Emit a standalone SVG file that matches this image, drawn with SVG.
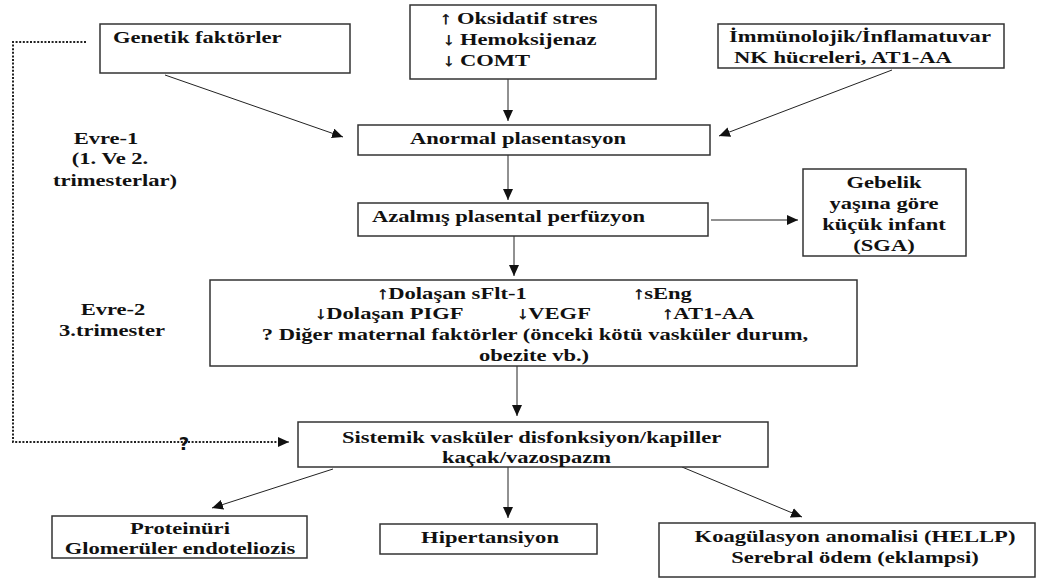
<svg xmlns="http://www.w3.org/2000/svg" width="1037" height="580" viewBox="0 0 1037 580">
<style>
  .box{fill:#fff;stroke:#333;stroke-width:1.5}
  .t{font-family:"Liberation Serif","DejaVu Serif","Times New Roman",serif;font-weight:bold;font-size:17px;fill:#111}
  .ar{stroke:#111;stroke-width:0.5}
  .m{text-anchor:middle}
  .c{stroke:#222;stroke-width:1;fill:none}
  .d{stroke:#222;stroke-width:2;stroke-dasharray:2 1.6;fill:none}
  .q{font-family:"DejaVu Sans",sans-serif;font-weight:bold;font-size:18px;fill:#111;text-anchor:middle}
</style>
<defs>
  <marker id="ah" markerUnits="userSpaceOnUse" markerWidth="12" markerHeight="10" refX="11" refY="5" orient="auto">
    <path d="M0,0 L11,5 L0,10 Z" fill="#111"/>
  </marker>
</defs>
<rect width="1037" height="580" fill="#fff"/>

<g id="connectors">
  <line class="c" x1="165" y1="75" x2="343" y2="137" marker-end="url(#ah)"/>
  <line class="c" x1="508" y1="79" x2="508" y2="121" marker-end="url(#ah)"/>
  <line class="c" x1="892" y1="70" x2="719" y2="136" marker-end="url(#ah)"/>
  <line class="c" x1="508" y1="155" x2="508" y2="200" marker-end="url(#ah)"/>
  <line class="c" x1="711" y1="220" x2="798" y2="220" marker-end="url(#ah)"/>
  <line class="c" x1="514" y1="236" x2="514" y2="276" marker-end="url(#ah)"/>
  <line class="c" x1="517" y1="366" x2="517" y2="416" marker-end="url(#ah)"/>
  <line class="c" x1="333" y1="469" x2="212" y2="508" marker-end="url(#ah)"/>
  <line class="c" x1="508" y1="467" x2="508" y2="518" marker-end="url(#ah)"/>
  <line class="c" x1="682" y1="467" x2="802" y2="517" marker-end="url(#ah)"/>
  <polyline class="d" points="86,42 13,42 13,442 280,442"/>
  <line class="c" x1="278" y1="442" x2="289" y2="442" marker-end="url(#ah)"/>
  <text class="q" x="184" y="450">?</text>
</g>

<g id="label-evre1">
  <text class="t m" transform="translate(106,144) scale(1.327,1)">Evre-1</text>
  <text class="t m" transform="translate(110,164) scale(1.327,1)">(1. Ve 2.</text>
  <text class="t m" transform="translate(115,186) scale(1.327,1)">trimesterlar)</text>
</g>
<g id="label-evre2">
  <text class="t m" transform="translate(113,315) scale(1.327,1)">Evre-2</text>
  <text class="t m" transform="translate(112,336) scale(1.327,1)">3.trimester</text>
</g>

<g id="genetik">
  <rect class="box" x="100" y="24" width="250" height="49"/>
  <text class="t" transform="translate(113,43) scale(1.327,1)">Genetik faktörler</text>
</g>

<g id="oksidatif">
  <rect class="box" x="410" y="5" width="246" height="74"/>
  <text class="t" transform="translate(440,24) scale(1.327,1)"><tspan class="ar">↑</tspan> Oksidatif stres</text>
  <text class="t" transform="translate(443,45) scale(1.327,1)"><tspan class="ar">↓</tspan> Hemoksijenaz</text>
  <text class="t" transform="translate(443,66) scale(1.327,1)"><tspan class="ar">↓</tspan> COMT</text>
</g>

<g id="immunolojik">
  <rect class="box" x="718" y="24" width="286" height="44"/>
  <text class="t" transform="translate(729,42) scale(1.327,1)">İmmünolojik/İnflamatuvar</text>
  <text class="t" transform="translate(734,63) scale(1.327,1)">NK hücreleri, AT1-AA</text>
</g>

<g id="anormal">
  <rect class="box" x="358" y="125" width="352" height="30"/>
  <text class="t m" transform="translate(518,144) scale(1.327,1)">Anormal plasentasyon</text>
</g>

<g id="azalmis">
  <rect class="box" x="358" y="203" width="350" height="33"/>
  <text class="t" transform="translate(372,222) scale(1.327,1)">Azalmış plasental perfüzyon</text>
</g>

<g id="sga">
  <rect class="box" x="803" y="169" width="163" height="87"/>
  <text class="t m" transform="translate(884,188) scale(1.327,1)">Gebelik</text>
  <text class="t m" transform="translate(884,209) scale(1.327,1)">yaşına göre</text>
  <text class="t m" transform="translate(884,230) scale(1.327,1)">küçük infant</text>
  <text class="t m" transform="translate(884,251) scale(1.327,1)">(SGA)</text>
</g>

<g id="faktorler">
  <rect class="box" x="210" y="280" width="647" height="86"/>
  <text class="t" transform="translate(0,299) scale(1.327,1)"><tspan x="284.1"><tspan class="ar">↑</tspan>Dolaşan sFlt-1</tspan><tspan x="477"><tspan class="ar">↑</tspan>sEng</tspan></text>
  <text class="t" transform="translate(0,319) scale(1.327,1)"><tspan x="237.4"><tspan class="ar">↓</tspan>Dolaşan PIGF</tspan><tspan x="389.6"><tspan class="ar">↓</tspan>VEGF</tspan><tspan x="498.9"><tspan class="ar">↑</tspan>AT1-AA</tspan></text>
  <text class="t m" transform="translate(535,340) scale(1.327,1)">? Diğer maternal faktörler (önceki kötü vasküler durum,</text>
  <text class="t m" transform="translate(534,361) scale(1.327,1)">obezite vb.)</text>
</g>

<g id="sistemik">
  <rect class="box" x="298" y="422" width="470" height="45"/>
  <text class="t" transform="translate(342,443) scale(1.327,1)">Sistemik vasküler disfonksiyon/kapiller</text>
  <text class="t" transform="translate(442,463) scale(1.327,1)">kaçak/vazospazm</text>
</g>

<g id="proteinuri">
  <rect class="box" x="52" y="516" width="255" height="42"/>
  <text class="t m" transform="translate(180,534) scale(1.327,1)">Proteinüri</text>
  <text class="t m" transform="translate(180,554) scale(1.327,1)">Glomerüler endoteliozis</text>
</g>

<g id="hipertansiyon">
  <rect class="box" x="380" y="524" width="217" height="30"/>
  <text class="t m" transform="translate(490,543) scale(1.327,1)">Hipertansiyon</text>
</g>

<g id="koagulasyon">
  <rect class="box" x="659" y="523" width="376" height="54"/>
  <text class="t m" transform="translate(855,542) scale(1.327,1)">Koagülasyon anomalisi (HELLP)</text>
  <text class="t m" transform="translate(855,563) scale(1.327,1)">Serebral ödem (eklampsi)</text>
</g>
</svg>
